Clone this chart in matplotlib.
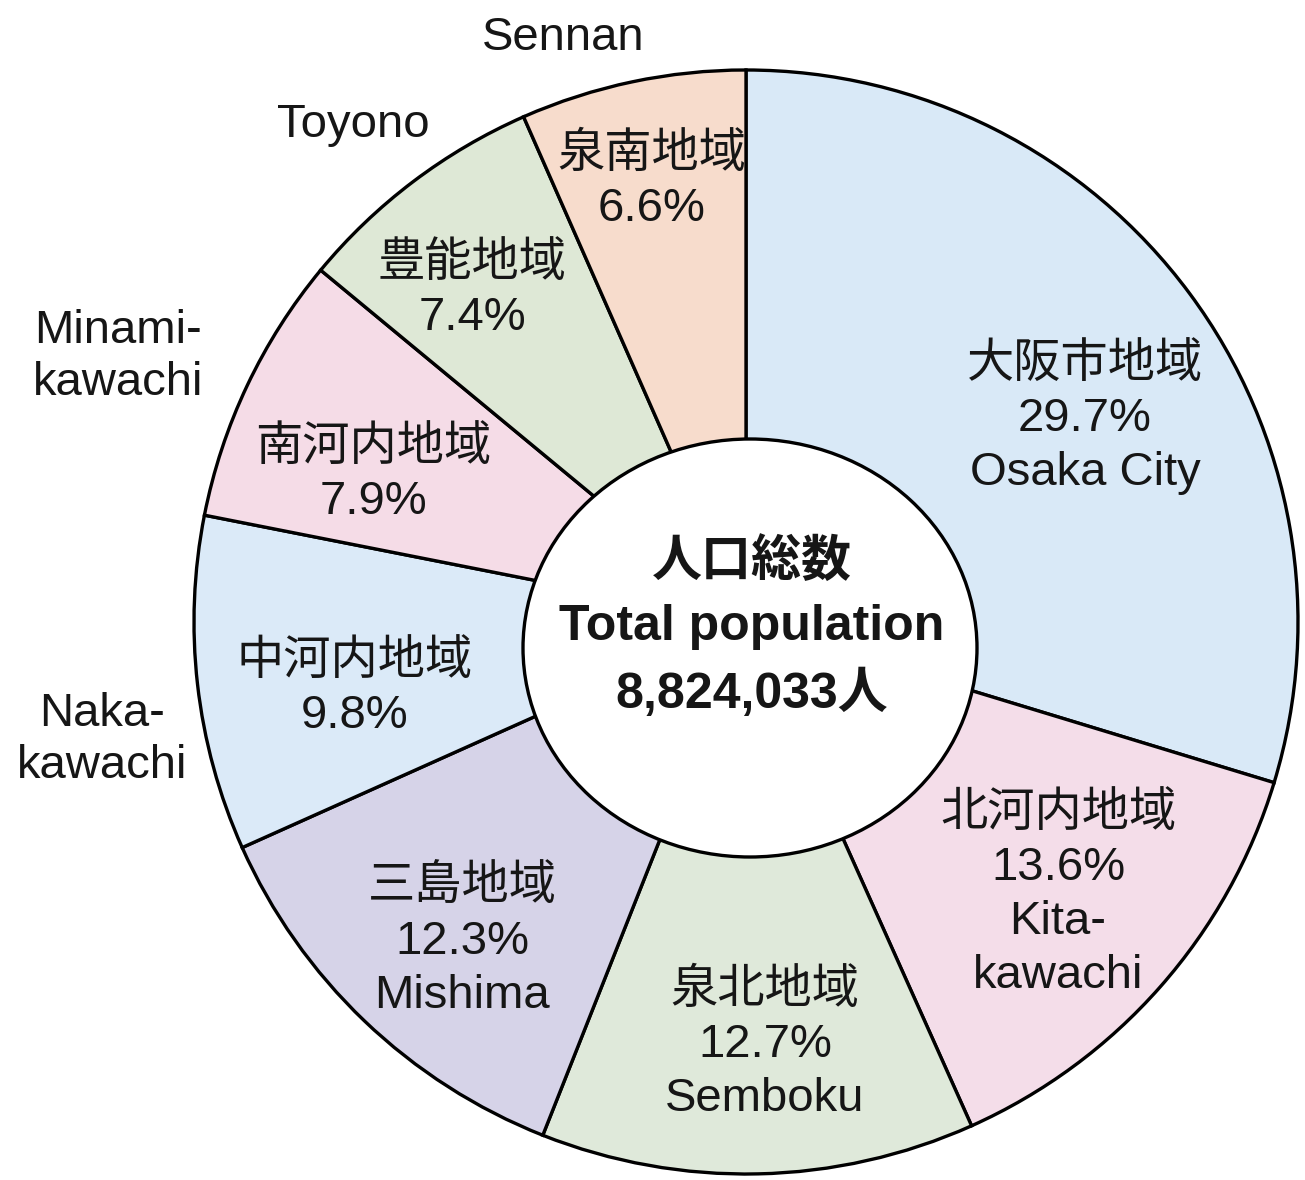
import matplotlib
matplotlib.use("Agg")
import matplotlib.pyplot as plt
from matplotlib.patches import Ellipse

# ---- data ----
regions_ja = ["大阪市地域", "北河内地域", "泉北地域", "三島地域", "中河内地域", "南河内地域", "豊能地域", "泉南地域"]
regions_en = ["Osaka City", "Kita-\nkawachi", "Semboku", "Mishima", "Naka-\nkawachi", "Minami-\nkawachi", "Toyono", "Sennan"]
shares = [29.7, 13.6, 12.7, 12.3, 9.8, 7.9, 7.4, 6.6]
colors = ["#d9e9f7", "#f4dde9", "#dfe9da", "#d6d3e8", "#dbeaf8", "#f5dce7", "#dee8d6", "#f7dccc"]
center_lines = ["人口総数", "Total population", "8,824,033人"]

FAM = ["Liberation Sans", "Noto Sans CJK JP", "DejaVu Sans"]
TXT = "#161616"

W, H = 1305, 1180
fig = plt.figure(figsize=(W / 100, H / 100), dpi=100)
ax = fig.add_axes([0, 0, 1, 1])

def Y(y):
    return H - y

ax.pie(shares, colors=colors, startangle=90, counterclock=False,
       center=(746, Y(622)), radius=552,
       wedgeprops=dict(edgecolor="black", linewidth=2.4))

ax.add_patch(Ellipse((750, Y(648)), 454, 418, facecolor="white",
                     edgecolor="black", linewidth=2.4, zorder=5))

ax.set_xlim(0, W)
ax.set_ylim(0, H)
ax.set_aspect("equal")
ax.axis("off")

# labels inside wedges: (x, y) pixel centres, whether english name goes inside
inside_pos = [(1085, 419), (1058, 895), (765, 1045), (462, 942),
              (355, 689), (373, 475), (472, 291), (652, 182)]
inside_en = [True, True, True, True, False, False, False, False]
outside_pos = {4: (102, 740), 5: (118, 357), 6: (353, 125), 7: (563, 38)}

for i, (ja, en, v) in enumerate(zip(regions_ja, regions_en, shares)):
    lines = [ja, f"{v:.1f}%"]
    if inside_en[i]:
        lines += en.split("\n")
    x, y = inside_pos[i]
    ax.text(x, Y(y), "\n".join(lines), ha="center", va="center",
            fontsize=34, family=FAM, color=TXT, linespacing=1.3, zorder=6)
    if not inside_en[i]:
        ox, oy = outside_pos[i]
        ax.text(ox, Y(oy), en, ha="center", va="center",
                fontsize=34, family=FAM, color=TXT, linespacing=1.25, zorder=6)

ax.text(752, Y(628), "\n".join(center_lines), ha="center", va="center",
        fontsize=36, family=FAM, color=TXT, fontweight="bold",
        linespacing=1.5, zorder=6)

fig.savefig("out.png", dpi=100, facecolor="white")
